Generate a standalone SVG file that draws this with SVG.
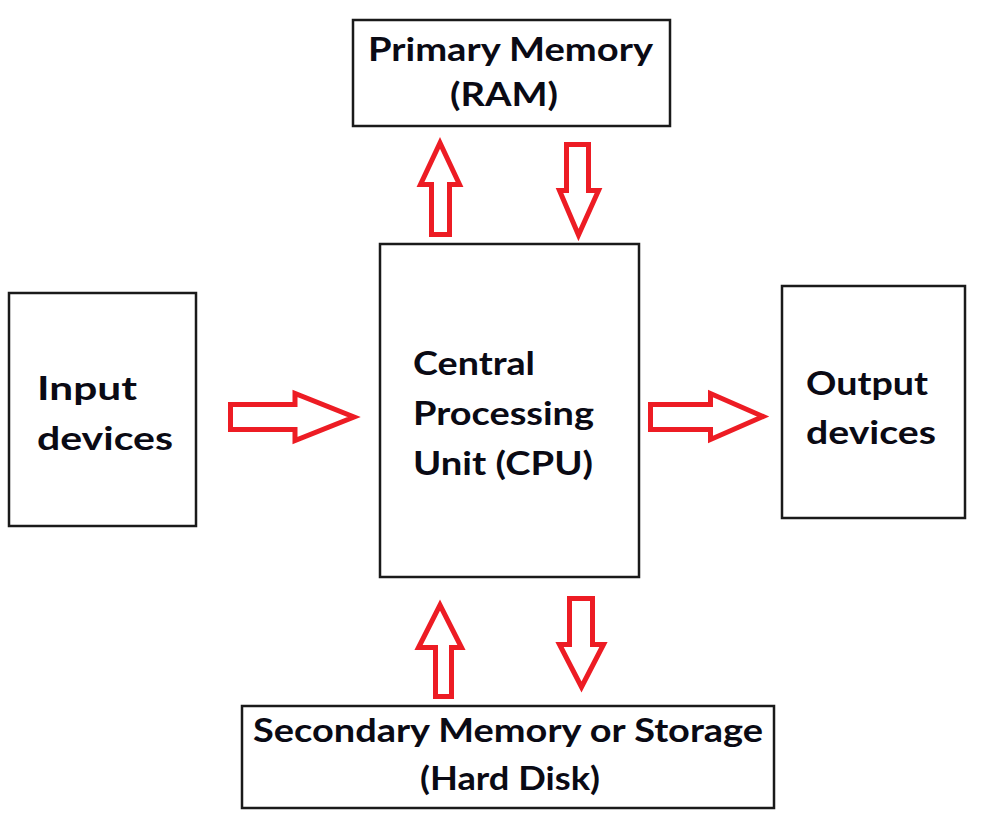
<svg xmlns="http://www.w3.org/2000/svg" width="982" height="830" viewBox="0 0 982 830">
<style>
.box{fill:#fff;stroke:#1a1a1a;stroke-width:2.5}
.t{font-family:Lato,"Open Sans","Liberation Sans",sans-serif;font-weight:bold;font-size:32px;fill:#0a0a14}
.arr{fill:#fff;stroke:#ED1C24;stroke-width:5;stroke-linejoin:miter}
</style>
<rect width="982" height="830" fill="#fff"/>
<g id="primary-memory">
<rect class="box" x="353" y="20" width="317" height="106"/>
<text class="t" x="368" y="61" textLength="285" lengthAdjust="spacingAndGlyphs">Primary Memory</text>
<text class="t" x="450" y="106" textLength="108" lengthAdjust="spacingAndGlyphs">(RAM)</text>
</g>
<g id="input-devices">
<rect class="box" x="9" y="293" width="187" height="233"/>
<text class="t" x="37" y="400" textLength="100" lengthAdjust="spacingAndGlyphs">Input</text>
<text class="t" x="37" y="450" textLength="136" lengthAdjust="spacingAndGlyphs">devices</text>
</g>
<g id="cpu">
<rect class="box" x="380" y="244" width="259" height="333"/>
<text class="t" x="413" y="375" textLength="122" lengthAdjust="spacingAndGlyphs">Central</text>
<text class="t" x="413" y="425" textLength="181" lengthAdjust="spacingAndGlyphs">Processing</text>
<text class="t" x="413" y="475" textLength="180" lengthAdjust="spacingAndGlyphs">Unit (CPU)</text>
</g>
<g id="output-devices">
<rect class="box" x="782" y="286" width="183" height="232"/>
<text class="t" x="806" y="395" textLength="122" lengthAdjust="spacingAndGlyphs">Output</text>
<text class="t" x="806" y="444" textLength="130" lengthAdjust="spacingAndGlyphs">devices</text>
</g>
<g id="secondary-memory">
<rect class="box" x="242" y="706" width="532" height="102"/>
<text class="t" x="253" y="742" textLength="510" lengthAdjust="spacingAndGlyphs">Secondary Memory or Storage</text>
<text class="t" x="420" y="790" textLength="180" lengthAdjust="spacingAndGlyphs">(Hard Disk)</text>
</g>
<g id="connectors">
<polygon class="arr" points="230.5,404.5 295,404.5 295,393.5 354,417 295,440.5 295,429.5 230.5,429.5"/>
<polygon class="arr" points="650.5,404.5 710.5,404.5 710.5,393.5 763,416.5 710.5,439.5 710.5,429.5 650.5,429.5"/>
<polygon class="arr" points="431.5,234.5 431.5,184.5 420.5,184.5 440,143 459.5,184.5 449.5,184.5 449.5,234.5"/>
<polygon class="arr" points="566.5,144.5 588.5,144.5 588.5,190.5 598.5,190.5 578.5,235 559.5,190.5 566.5,190.5"/>
<polygon class="arr" points="435.5,696.5 435.5,647.5 418.5,647.5 440,605 461.5,647.5 451.5,647.5 451.5,696.5"/>
<polygon class="arr" points="569.5,598.5 592.5,598.5 592.5,644.5 603.5,644.5 581.5,687 559.5,644.5 569.5,644.5"/>
</g>
</svg>
